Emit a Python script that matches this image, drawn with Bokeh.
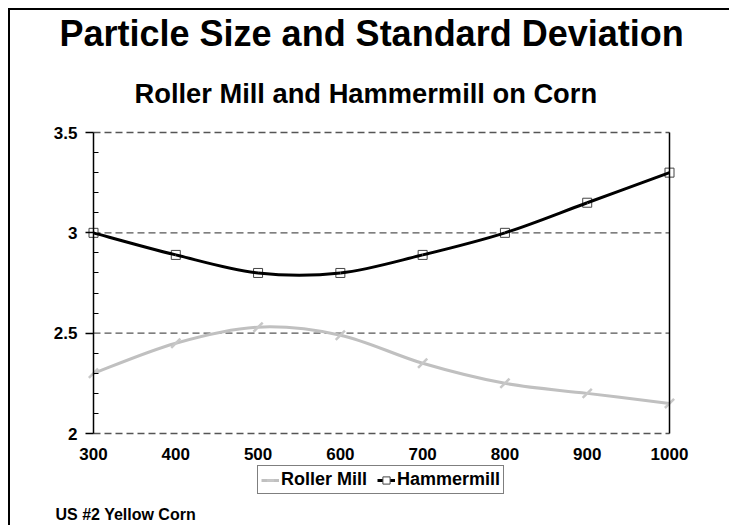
from bokeh.plotting import figure
from bokeh.models import Title, Legend, LegendItem, LinearAxis, FixedTicker, Range1d
from bokeh.embed import file_html
from bokeh.resources import INLINE

# ---- data ----
mesh = [300, 400, 500, 600, 700, 800, 900, 1000]
roller_mill = [2.30, 2.45, 2.53, 2.49, 2.35, 2.25, 2.20, 2.15]
hammermill = [3.00, 2.89, 2.80, 2.80, 2.89, 3.00, 3.15, 3.30]
y_ticks = [2.0, 2.5, 3.0, 3.5]
y_tick_labels = ["2", "2.5", "3", "3.5"]
x_ticks = [300, 400, 500, 600, 700, 800, 900, 1000]
title_text = "Particle Size and Standard Deviation"
subtitle_text = "Roller Mill and Hammermill on Corn"
footer_text = "US #2 Yellow Corn"

FONT = "Liberation Sans"

# ---- layout (pixels) ----
W, H = 729, 525
TOP, BOTTOM = 120, 23          # space above / below the frame
LEFT, RIGHT = 40, 9            # frame is larger than the plotted area
AX_LEFT, AX_W = 93, 576        # plotted area: x 300..1000
AX_TOP, PLOT_H = 132, 301      # plotted area: y 2..3.5
FRAME_H = H - TOP - BOTTOM
FRAME_W = W - LEFT - RIGHT
X_MIN, X_MAX = 300, 1000
Y_MIN, Y_MAX = 2.0, 3.5
ppx = AX_W / (X_MAX - X_MIN)
ppy = PLOT_H / (Y_MAX - Y_MIN)
x_start = X_MIN - (AX_LEFT - LEFT) / ppx
x_end = x_start + FRAME_W / ppx
y_end = Y_MAX + (AX_TOP - TOP) / ppy
y_start = y_end - FRAME_H / ppy


def smooth(xs, ys):
    """Catmull-Rom spline segments as cubic Bezier control points."""
    n = len(xs)
    px = [xs[0]] + list(xs) + [xs[-1]]
    py = [ys[0]] + list(ys) + [ys[-1]]
    seg = dict(x0=[], y0=[], x1=[], y1=[], cx0=[], cy0=[], cx1=[], cy1=[])
    for i in range(1, n):
        seg["x0"].append(px[i]); seg["y0"].append(py[i])
        seg["x1"].append(px[i + 1]); seg["y1"].append(py[i + 1])
        seg["cx0"].append(px[i] + (px[i + 1] - px[i - 1]) / 6)
        seg["cy0"].append(py[i] + (py[i + 1] - py[i - 1]) / 6)
        seg["cx1"].append(px[i + 1] - (px[i + 2] - px[i]) / 6)
        seg["cy1"].append(py[i + 1] - (py[i + 2] - py[i]) / 6)
    return seg


p = figure(width=W, height=H,
           min_border_left=LEFT, min_border_right=RIGHT,
           min_border_top=TOP, min_border_bottom=BOTTOM,
           x_range=Range1d(x_start, x_end), y_range=Range1d(y_start, y_end),
           output_backend="svg", toolbar_location=None)
p.title = None
p.outline_line_color = None
p.border_fill_color = None
p.background_fill_color = "white"
p.styles = {"box-shadow": "inset 8px 8px 0 0 white, inset 10px 10px 0 0 black"}

# titles (later added -> further from the frame)
sub = Title(text=subtitle_text, align="left", offset=134 - LEFT, standoff=24,
            text_font=FONT, text_font_size="27.3px", text_font_style="bold",
            text_color="black")
p.add_layout(sub, "above")
main = Title(text=title_text, align="left", offset=59 - LEFT, standoff=19,
             text_font=FONT, text_font_size="36px", text_font_style="bold",
             text_color="black")
p.add_layout(main, "above")

# x axis drawn at y = 2
p.xaxis.fixed_location = Y_MIN
p.xaxis.ticker = FixedTicker(ticks=x_ticks)
p.xaxis.axis_line_color = None
p.xaxis.major_tick_line_color = None
p.xaxis.minor_tick_line_color = None
p.xaxis.major_label_standoff = 8
p.xaxis.major_label_text_font = FONT
p.xaxis.major_label_text_font_style = "bold"
p.xaxis.major_label_text_font_size = "17px"
p.xaxis.major_label_text_color = "black"

# y axis drawn at x = 300
minor = [round(2 + 0.1 * i, 2) for i in range(16) if i % 5 != 0]
p.yaxis.fixed_location = X_MIN
p.yaxis.ticker = FixedTicker(ticks=y_ticks, minor_ticks=minor)
p.yaxis.bounds = (Y_MIN, Y_MAX)
p.yaxis.major_label_overrides = {t: l for t, l in zip(y_ticks, y_tick_labels)}
p.yaxis.axis_line_color = "black"
p.yaxis.axis_line_width = 1.5
p.yaxis.major_tick_in = 0
p.yaxis.major_tick_out = 8
p.yaxis.major_tick_line_color = "black"
p.yaxis.major_tick_line_width = 1.5
p.yaxis.minor_tick_in = 5
p.yaxis.minor_tick_out = 0
p.yaxis.minor_tick_line_color = "black"
p.yaxis.minor_tick_line_width = 1.2
p.yaxis.major_label_standoff = 8
p.yaxis.major_label_text_font = FONT
p.yaxis.major_label_text_font_style = "bold"
p.yaxis.major_label_text_font_size = "17px"
p.yaxis.major_label_text_color = "black"

right = LinearAxis(ticker=FixedTicker(ticks=[]), bounds=(Y_MIN, Y_MAX),
                   fixed_location=X_MAX,
                   axis_line_color="black", axis_line_width=1.5,
                   major_tick_line_color=None, minor_tick_line_color=None,
                   major_label_text_font_size="0px")
p.add_layout(right, "right")

# dashed horizontal grid, only across the plotted area
p.xgrid.grid_line_color = None
p.ygrid.grid_line_color = None
p.segment(x0=[X_MIN] * len(y_ticks), x1=[X_MAX] * len(y_ticks),
          y0=y_ticks, y1=y_ticks, line_color="#555555",
          line_dash="7 4", line_width=1.3)

# series
hm = smooth(mesh, hammermill)
rm = smooth(mesh, roller_mill)

hm_marks = p.scatter(mesh, hammermill, marker="square", size=9,
                     line_color="#444444", fill_color="white", line_width=1)
hm_line = p.bezier(**hm, line_color="black", line_width=3)
rm_line = p.bezier(**rm, line_color="#c0c0c0", line_width=3)
rm_marks = p.scatter(mesh, roller_mill, marker="dash", angle=0.785, size=13,
                     line_color="#c8c8c8", line_width=2.5)

legend = Legend(items=[LegendItem(label="Roller Mill", renderers=[rm_line, rm_marks]),
                       LegendItem(label="Hammermill", renderers=[hm_line, hm_marks])],
                orientation="horizontal", location=(257 - LEFT, 8),
                glyph_width=18, glyph_height=18, label_height=18,
                label_standoff=2, spacing=10, padding=3, margin=0,
                label_text_font=FONT, label_text_font_style="bold",
                label_text_font_size="18px", label_text_color="black",
                border_line_color="black", border_line_width=1.2,
                background_fill_color="white", background_fill_alpha=1)
p.add_layout(legend, "center")

foot = Title(text=footer_text, align="left", offset=55 - LEFT, standoff=2,
             text_font=FONT, text_font_size="16px", text_font_style="bold",
             text_color="black")
p.add_layout(foot, "below")

open("out.html", "w").write(file_html(p, INLINE))
